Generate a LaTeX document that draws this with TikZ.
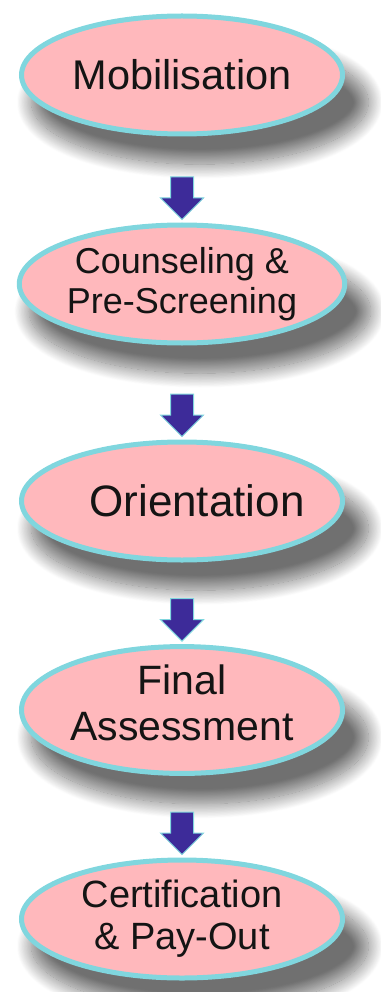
\documentclass[tikz,border=0pt]{standalone}
\usepackage{fontspec}
\setmainfont{Liberation Sans}
\usetikzlibrary{shapes,shadows.blur}
\definecolor{stepfill}{RGB}{255,184,188}
\definecolor{steprim}{RGB}{128,214,222}
\definecolor{arrowblue}{RGB}{61,43,153}
\definecolor{textdark}{RGB}{20,20,20}

\begin{document}
\begin{tikzpicture}[x=1pt,y=-1pt,
    stepbox/.style={ellipse, draw=steprim, line width=5pt, fill=stepfill,
      minimum width=321pt, minimum height=118pt, inner sep=0pt,
      align=center, text=textdark,
      blur shadow={shadow xshift=17pt, shadow yshift=-26pt, shadow scale=1.05,
        shadow blur radius=14pt, shadow blur steps=25, shadow opacity=56}},
    downarrow/.style={draw=steprim, line width=1pt, fill=arrowblue, line join=miter}]
        \useasboundingbox (0,0) rectangle (380,992);

        % draw steps
        \node[stepbox, font=\fontsize{41.5}{48}\selectfont] (mob) at (182,75) {Mobilisation};
        \node[stepbox, font=\fontsize{36}{40}\selectfont] (cps) at (182,284) {Counseling \&\\Pre-Screening};
        \node[stepbox, font=\fontsize{44}{52}\selectfont] (ori) at (182,501) {\makebox[0pt]{\hspace*{30pt}Orientation}};
        \node[stepbox, font=\fontsize{41}{46}\selectfont] (fin) at (182,710) {Final\\Assessment\rule[-14pt]{0pt}{14pt}};
        \node[stepbox, font=\fontsize{38}{42}\selectfont] (cert) at (182,919) {Certification\\\& Pay-Out};

        % draw arrows between steps
        \foreach \a/\b in {mob/cps,cps/ori,ori/fin,fin/cert}{
          \path ([yshift=3pt]\b.north) coordinate (\a-\b);
          \draw[downarrow] (\a-\b) -- ++(-21.5,-21.5) -- ++(10,0) -- ++(0,-21)
            -- ++(23,0) -- ++(0,21) -- ++(10,0) -- cycle;
        }
        \end{tikzpicture}
\end{document}
